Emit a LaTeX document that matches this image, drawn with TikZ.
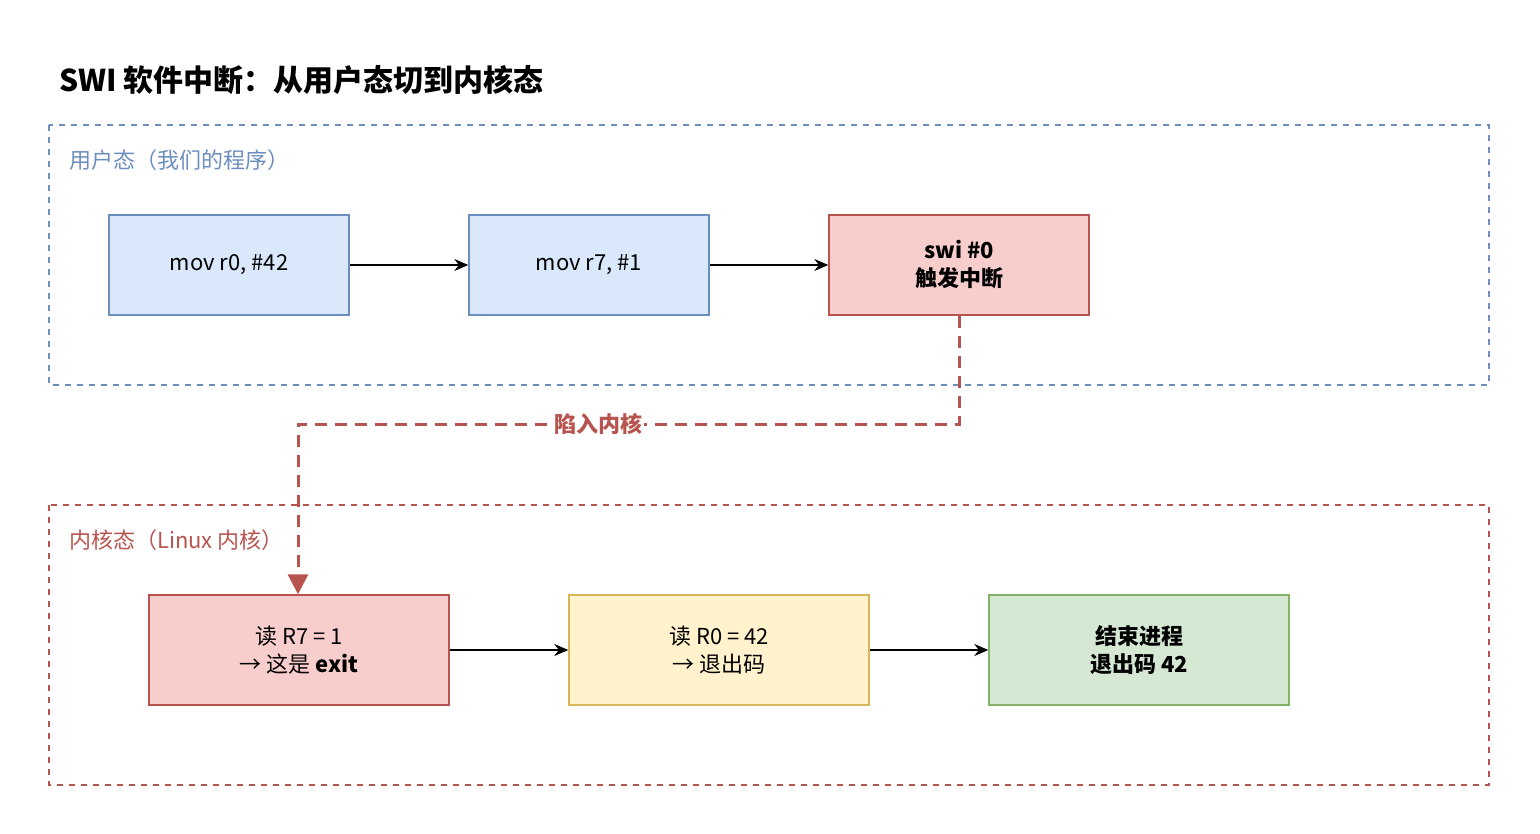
\documentclass[tikz,border=0pt]{standalone}
\usepackage{fontspec}
\setmainfont{Noto Sans CJK SC}
\usetikzlibrary{arrows.meta}
\definecolor{bstroke}{HTML}{6C8EBF}\definecolor{bfill}{HTML}{DAE8FC}
\definecolor{rstroke}{HTML}{B85450}\definecolor{rfill}{HTML}{F8CECC}
\definecolor{ystroke}{HTML}{D6B656}\definecolor{yfill}{HTML}{FFF2CC}
\definecolor{gstroke}{HTML}{82B366}\definecolor{gfill}{HTML}{D5E8D4}
\begin{document}
\begin{tikzpicture}[x=0.5pt,y=-0.5pt,
  box/.style={draw,line width=0.7pt,align=center,font=\fontsize{11}{14}\selectfont},
  cont/.style={draw,dashed,line width=0.7pt},
  flow/.style={-{Stealth[length=7pt,width=6pt]},line width=0.7pt}]
\useasboundingbox (0,0) rectangle (1540,834);
\node[anchor=west,font=\fontsize{15}{18}\selectfont\bfseries] (title) at (52,80) {SWI 软件中断：从用户态切到内核态};
\draw[cont,bstroke] (49,125) rectangle (1489,385);
\node[anchor=west,text=bstroke,font=\fontsize{11}{14}\selectfont] (ul) at (62,160) {用户态（我们的程序）};
\draw[cont,rstroke] (49,505) rectangle (1489,785);
\node[anchor=west,text=rstroke,font=\fontsize{11}{14}\selectfont] (kl) at (62,540) {内核态（Linux 内核）};
\node[box,draw=bstroke,fill=bfill,minimum width=120pt,minimum height=50pt] (a) at (229,265) {mov r0, \#42};
\node[box,draw=bstroke,fill=bfill,minimum width=120pt,minimum height=50pt] (b) at (589,265) {mov r7, \#1};
\node[box,draw=rstroke,fill=rfill,minimum width=130pt,minimum height=50pt,font=\fontsize{11}{14}\selectfont\bfseries] (c) at (959,265) {swi \#0\\触发中断};
\node[box,draw=rstroke,fill=rfill,minimum width=150pt,minimum height=55pt] (d) at (299,650) {读 R7 = 1\\→ 这是 \textbf{exit}};
\node[box,draw=ystroke,fill=yfill,minimum width=150pt,minimum height=55pt] (e) at (719,650) {读 R0 = 42\\→ 退出码};
\node[box,draw=gstroke,fill=gfill,minimum width=150pt,minimum height=55pt,font=\fontsize{11}{14}\selectfont\bfseries] (f) at (1139,650) {结束进程\\退出码 42};
\draw[flow] (a) -- (b);
\draw[flow] (b) -- (c);
\draw[flow] (d) -- (e);
\draw[flow] (e) -- (f);
\coordinate (t1) at (959,424);
\coordinate (t2) at (298,424);
\draw[rstroke,line width=1.5pt,dash pattern=on 6pt off 4pt,-{Triangle[length=10pt,width=10pt]}]
  (c.south) -- (t1) -- (t2) -- (d.north -| t2);
\node[fill=white,text=rstroke,inner sep=1pt,font=\fontsize{11}{14}\selectfont\bfseries] (lbl) at (598,424) {陷入内核};
\end{tikzpicture}
\end{document}
